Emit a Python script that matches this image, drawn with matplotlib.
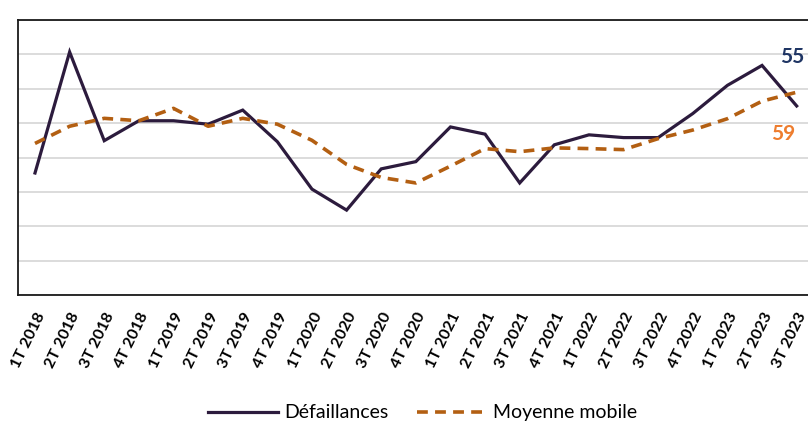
import matplotlib.pyplot as plt

# trimestres
quarters = ["1T 2018", "2T 2018", "3T 2018", "4T 2018",
            "1T 2019", "2T 2019", "3T 2019", "4T 2019",
            "1T 2020", "2T 2020", "3T 2020", "4T 2020",
            "1T 2021", "2T 2021", "3T 2021", "4T 2021",
            "1T 2022", "2T 2022", "3T 2022", "4T 2022",
            "1T 2023", "2T 2023", "3T 2023"]
defaillances = [35.5, 70.7, 44.9, 50.7, 50.7, 49.7, 53.8, 44.6,
                30.8, 24.7, 36.7, 38.8, 48.9, 46.8, 32.6, 43.7,
                46.6, 45.8, 45.8, 52.8, 61.0, 66.8, 55.0]
moyenne_mobile = [44.1, 49.1, 51.4, 50.7, 54.3, 49.1, 51.4, 49.7,
                  45.0, 38.0, 34.2, 32.6, 37.5, 42.6, 41.7, 42.8,
                  42.6, 42.3, 45.5, 48.0, 51.3, 56.4, 59.0]
y_ticks = [0, 10, 20, 30, 40, 50, 60, 70, 80]

plt.rcParams['font.family'] = ['Lato', 'DejaVu Sans']

fig = plt.figure(figsize=(8.08, 4.23), dpi=100)
ax = fig.add_axes([0.0219, 0.3026, 0.9855, 0.650])

x = list(range(len(quarters)))
ax.plot(x, defaillances, '-', color='#2c1b3d', lw=2.3, label="Défaillances",
        solid_joinstyle='miter')
ax.plot(x, moyenne_mobile, '--', color='#b35f12', lw=2.6, dashes=(3, 2),
        label="Moyenne mobile")

ax.set_xlim(-0.5, len(quarters) - 0.5)
ax.set_ylim(0, 80)
ax.set_yticks(y_ticks)
ax.set_yticklabels([])  # étiquettes hors cadre dans l'original
ax.tick_params(axis='y', length=0)
ax.set_xticks(x)
ax.set_xticklabels(quarters, rotation=64, ha='right', rotation_mode='anchor',
                   fontsize=11.5, fontweight='bold')
ax.tick_params(axis='x', length=0, pad=11)
ax.grid(axis='y', color='#d9d9d9', lw=1.3)
ax.set_axisbelow(True)
for s in ax.spines.values():
    s.set_color('#1a1a1a')
    s.set_linewidth(1.3)

ax.text(21.53, 69.3, "55", color='#1f3564', fontsize=15,
        fontweight='bold', ha='left', va='center')
ax.text(21.27, 46.9, "59", color='#ee7d2e', fontsize=15,
        fontweight='bold', ha='left', va='center')

fig.legend(loc='center', bbox_to_anchor=(0.523, 0.024), ncol=2,
           frameon=False, fontsize=14, handlelength=3.6, handletextpad=0.3,
           columnspacing=1.5)

fig.savefig("out.png", dpi=100)
